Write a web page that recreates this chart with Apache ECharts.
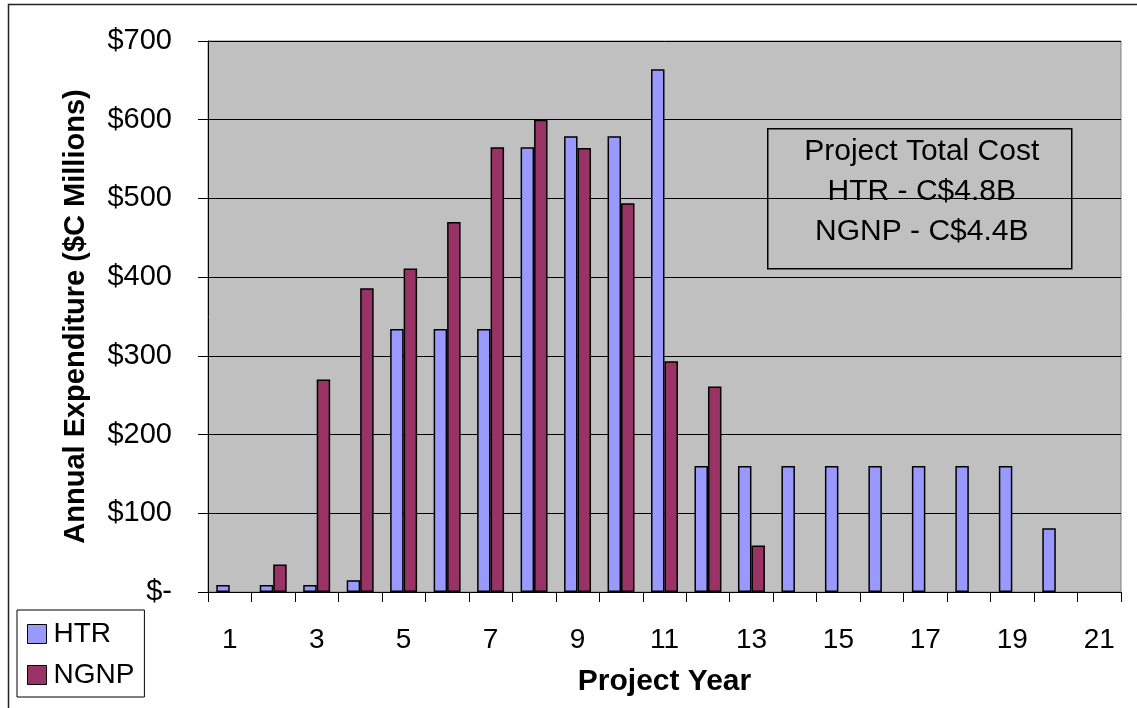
<!DOCTYPE html>
<html>
<head>
<meta charset="utf-8">
<script src="https://cdn.jsdelivr.net/npm/echarts@6/dist/echarts.min.js"></script>
<style>
html, body { margin: 0; padding: 0; background: #fff; }
#chart { width: 1137px; height: 708px; }
</style>
</head>
<body>
<div id="chart"></div>
<script>
// project years 1..21
var years = ['1','2','3','4','5','6','7','8','9','10','11','12','13','14','15','16','17','18','19','20','21'];
// annual expenditure, $C millions (null = no spending that year)
var htr  = [9, 9, 9, 15, 334, 334, 334, 565, 579, 579, 664, 160, 160, 160, 160, 160, 160, 160, 160, 81, null];
var ngnp = [null, 35, 270, 386, 411, 470, 565, 600, 564, 494, 293, 261, 59, null, null, null, null, null, null, null, null];
var yTicks = [0, 100, 200, 300, 400, 500, 600, 700];
var noteLines = ['Project Total Cost', 'HTR - C$4.8B', 'NGNP - C$4.4B'];

var font = 'Arial, "Liberation Sans", sans-serif';
var chart = echarts.init(document.getElementById('chart'));

var option = {
    animation: false,
    textStyle: { fontFamily: font },
    grid: {
        left: 208,
        right: 16,
        top: 41,
        bottom: 116,
        show: true,
        backgroundColor: '#C0C0C0',
        borderColor: '#808080',
        borderWidth: 1
    },
    legend: {
        orient: 'vertical',
        left: 17,
        top: 610,
        padding: [10, 10, 8, 10],
        itemGap: 13,
        itemWidth: 19,
        itemHeight: 19,
        borderColor: '#000',
        borderWidth: 1,
        backgroundColor: '#fff',
        icon: 'rect',
        itemStyle: { borderColor: '#000', borderWidth: 1 },
        textStyle: { color: '#000', fontSize: 28, lineHeight: 28, fontFamily: font, padding: [0, 0, 0, 2] },
        data: ['HTR', 'NGNP']
    },
    xAxis: {
        type: 'category',
        data: years,
        name: 'Project Year',
        nameLocation: 'middle',
        nameGap: 75,
        nameTextStyle: { color: '#000', fontSize: 30, fontWeight: 'bold', fontFamily: font },
        axisLine: { lineStyle: { color: '#000', width: 1 } },
        axisTick: { show: true, interval: 0, alignWithLabel: false, length: 10, lineStyle: { color: '#000' } },
        axisLabel: { interval: 1, color: '#000', fontSize: 28, margin: 34, fontFamily: font },
        splitLine: { show: false }
    },
    yAxis: {
        type: 'value',
        min: yTicks[0],
        max: yTicks[yTicks.length - 1],
        interval: 100,
        name: 'Annual Expenditure ($C Millions)',
        nameLocation: 'middle',
        nameGap: 118,
        nameTextStyle: { color: '#000', fontSize: 29, fontWeight: 'bold', fontFamily: font },
        axisLine: { show: true, lineStyle: { color: '#000', width: 1 } },
        axisTick: { show: true, inside: false, length: 10, lineStyle: { color: '#000' } },
        axisLabel: {
            color: '#000',
            fontSize: 29,
            margin: 36,
            fontFamily: font,
            formatter: function (v) { return v === 0 ? '$-' : '$' + v; }
        },
        splitLine: { show: true, lineStyle: { color: '#000', width: 1 } }
    },
    series: [
        {
            name: 'HTR',
            type: 'bar',
            data: htr,
            barGap: '0%',
            barCategoryGap: '38%',
            itemStyle: { color: '#9999FF', borderColor: '#000', borderWidth: 1.5 }
        },
        {
            name: 'NGNP',
            type: 'bar',
            data: ngnp,
            itemStyle: { color: '#993366', borderColor: '#000', borderWidth: 1.5 }
        }
    ],
    graphic: [
        {
            // outer chart frame
            type: 'rect',
            silent: true,
            shape: { x: 8.5, y: 4.5, width: 1200, height: 800 },
            style: { fill: 'none', stroke: '#222', lineWidth: 1.5 }
        },
        {
            type: 'group',
            left: 767,
            top: 128,
            children: [
                {
                    type: 'rect',
                    shape: { x: 0, y: 0, width: 304, height: 140 },
                    style: { fill: '#C0C0C0', stroke: '#000', lineWidth: 1.5 }
                },
                {
                    type: 'text',
                    x: 154,
                    y: 63,
                    style: {
                        text: noteLines.join('\n'),
                        fill: '#000',
                        font: '30px ' + font,
                        lineHeight: 40,
                        align: 'center',
                        verticalAlign: 'middle'
                    }
                }
            ]
        }
    ]
};

chart.setOption(option);
</script>
</body>
</html>
